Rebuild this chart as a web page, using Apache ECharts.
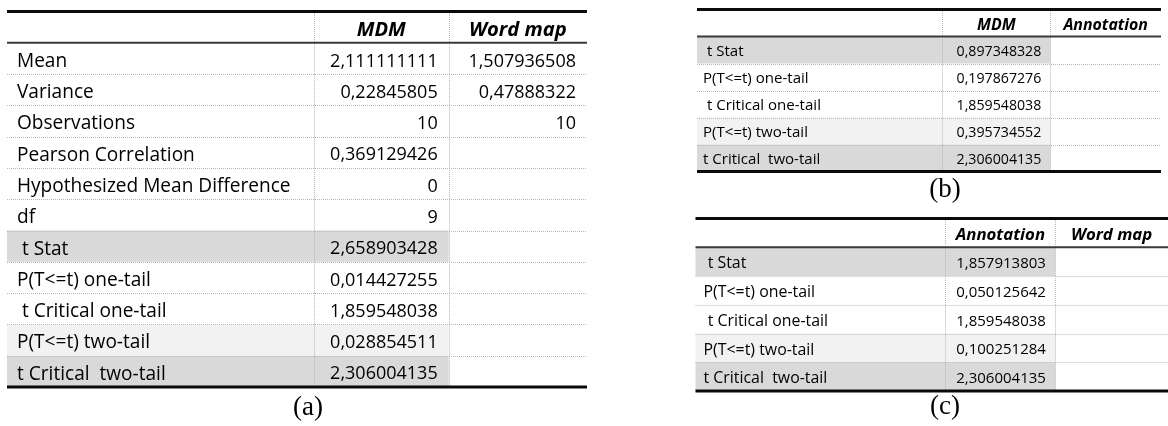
<!DOCTYPE html>
<html><head><meta charset="utf-8">
<script src="https://cdn.jsdelivr.net/npm/echarts@6/dist/echarts.min.js"></script>
<style>html,body{margin:0;padding:0;background:#fff}#c{width:1168px;height:426px}</style>
</head><body><div id="c"></div>
<script>
// ---------- Table (a) ----------
const colsA = ['MDM', 'Word map'];
const rowsA = ['Mean', 'Variance', 'Observations', 'Pearson Correlation', 'Hypothesized Mean Difference', 'df',
  ' t Stat', 'P(T<=t) one-tail', ' t Critical one-tail', 'P(T<=t) two-tail', 't Critical  two-tail'];
const mdmA = [2.111111111, 0.22845805, 10, 0.369129426, 0, 9, 2.658903428, 0.014427255, 1.859548038, 0.028854511, 2.306004135];
const wordMapA = [1.507936508, 0.47888322, 10, null, null, null, null, null, null, null, null];

// ---------- Table (b) ----------
const colsB = ['MDM', 'Annotation'];
const rowsB = [' t Stat', 'P(T<=t) one-tail', ' t Critical one-tail', 'P(T<=t) two-tail', 't Critical  two-tail'];
const mdmB = [0.897348328, 0.197867276, 1.859548038, 0.395734552, 2.306004135];
const annotationB = [null, null, null, null, null];

// ---------- Table (c) ----------
const colsC = ['Annotation', 'Word map'];
const rowsC = [' t Stat', 'P(T<=t) one-tail', ' t Critical one-tail', 'P(T<=t) two-tail', 't Critical  two-tail'];
const annotationC = [1.857913803, 0.050125642, 1.859548038, 0.100251284, 2.306004135];
const wordMapC = [null, null, null, null, null];

const captions = ['(a)', '(b)', '(c)'];

// ---------- styling / layout ----------
const SHADE = { ' t Stat': '#d9d9d9', 'P(T<=t) two-tail': '#f2f2f2', 't Critical  two-tail': '#d9d9d9' };
const COL1 = 0.529, COL2 = 0.7615;
const FONT = '"Open Sans", "Noto Sans", sans-serif';
const tables = [
  { cols: colsA, rows: rowsA, vals: [mdmA, wordMapA], grid: { left: 7, top: 11.5, width: 580, height: 375.5 }, fs: 18, dy: 3, padL: 10, padR: 11 },
  { cols: colsB, rows: rowsB, vals: [mdmB, annotationB], grid: { left: 697, top: 9.5, width: 464, height: 162 }, fs: 14.2, dy: 2, padL: 6, padR: 9 },
  { cols: colsC, rows: rowsC, vals: [annotationC, wordMapC], grid: { left: 695.5, top: 218.5, width: 482.5, height: 172.5 }, fs: 15, dy: 2.3, padL: 8, padR: 9.4 }
];
const captionPos = [[308, 408], [945, 190], [945, 407]];

function fmt(v) { return v == null ? '' : String(v).replace('.', ','); }
function crisp(v) { return Math.round(v) + 0.5; }

function txt(s, x, y, align, size, header) {
  return {
    type: 'text', z2: 20,
    style: {
      text: s, x: x, y: y, align: align, textAlign: align, verticalAlign: 'middle', textVerticalAlign: 'middle',
      fontFamily: FONT, fontSize: size, fontWeight: header ? 'bold' : 'normal', fontStyle: header ? 'italic' : 'normal',
      fill: '#000000'
    }
  };
}
function hline(x1, x2, y, color, lw, dash) {
  return { type: 'line', z2: dash ? 10 : 15, shape: { x1: x1, y1: y, x2: x2, y2: y },
    style: { stroke: color, lineWidth: lw, lineDash: dash || null } };
}
function vdot(x, y1, y2) {
  return { type: 'line', z2: 10, shape: { x1: crisp(x), y1: y1, x2: crisp(x), y2: y2 },
    style: { stroke: '#b8b8b8', lineWidth: 1, lineDash: [1, 1] } };
}

function makeRender(t) {
  return function (params, api) {
    const i = api.value(1);
    const c = api.coord([0, i]);
    const x0 = c[0], yc = c[1];
    const x1 = api.coord([1, i])[0];
    const h = api.size([0, 1])[1];
    const yTop = yc - h / 2, yBot = yc + h / 2;
    const W = x1 - x0;
    const b1 = x0 + W * COL1, b2 = x0 + W * COL2;
    const ch = [];
    if (i === 0) {
      ch.push(txt(t.cols[0], (b1 + b2) / 2, yc + t.dy, 'center', t.fs * 1.12, true));
      ch.push(txt(t.cols[1], (b2 + x1) / 2, yc + t.dy, 'center', t.fs * 1.12, true));
      ch.push(vdot(b1, yTop + 1.5, yBot));
      ch.push(vdot(b2, yTop + 1.5, yBot));
      ch.push(hline(x0, x1, yTop, '#0a0a0a', 3));
      ch.push(hline(x0, x1, yBot, '#3a3a3a', 2));
    } else {
      const r = i - 1;
      const label = t.rows[r];
      const shade = SHADE[label];
      if (shade) {
        ch.push({ type: 'rect', z2: 0, shape: { x: x0, y: yTop, width: b2 - x0, height: yBot - yTop }, style: { fill: shade } });
      }
      ch.push(txt(label, x0 + t.padL, yc + t.dy, 'left', t.fs * 1.06, false));
      ch.push(txt(fmt(t.vals[0][r]), b2 - t.padR, yc + t.dy, 'right', t.fs, false));
      ch.push(txt(fmt(t.vals[1][r]), x1 - t.padR, yc + t.dy, 'right', t.fs, false));
      ch.push(vdot(b1, yTop, yBot));
      ch.push(vdot(b2, yTop, yBot));
      if (r === t.rows.length - 1) {
        ch.push(hline(x0, x1, yBot, '#0a0a0a', 3));
      } else {
        ch.push(hline(x0, x1, crisp(yBot), '#b8b8b8', 1, [1, 1]));
      }
    }
    return { type: 'group', children: ch };
  };
}

const option = {
  animation: false,
  backgroundColor: '#ffffff',
  grid: tables.map(t => Object.assign({ containLabel: false }, t.grid)),
  xAxis: tables.map((t, k) => ({ type: 'value', gridIndex: k, min: 0, max: 1, show: false })),
  yAxis: tables.map((t, k) => ({ type: 'category', gridIndex: k, data: [''].concat(t.rows), inverse: true, show: false })),
  series: tables.map((t, k) => ({
    type: 'custom', xAxisIndex: k, yAxisIndex: k, clip: false,
    encode: { x: 0, y: 1 },
    data: [''].concat(t.rows).map((_, i) => [0, i]),
    renderItem: makeRender(t)
  })),
  graphic: captions.map((s, k) => ({
    type: 'text', x: captionPos[k][0], y: captionPos[k][1],
    style: { text: s, align: 'center', textAlign: 'center', verticalAlign: 'middle', textVerticalAlign: 'middle',
      fontFamily: '"Liberation Serif", "Times New Roman", serif', fontSize: 27, fill: '#000' }
  }))
};

const chart = echarts.init(document.getElementById('c'), null, { renderer: 'canvas' });
chart.setOption(option);
</script>
</body></html>
